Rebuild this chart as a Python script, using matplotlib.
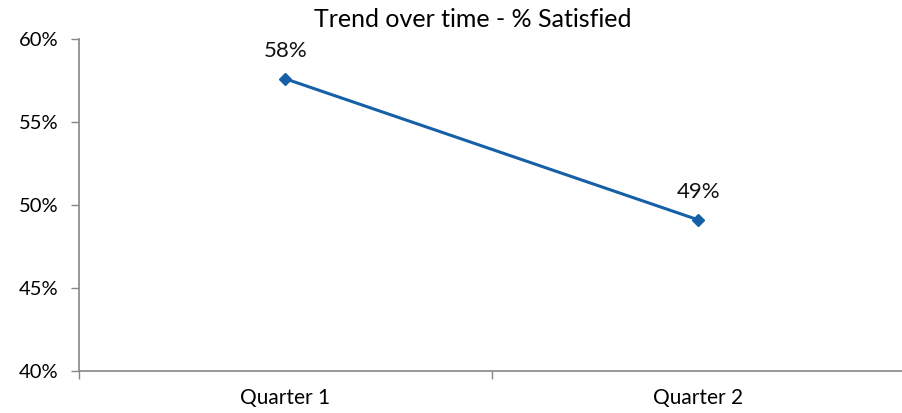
import numpy as np
import matplotlib.pyplot as plt
from matplotlib.ticker import FuncFormatter

# ---- data ----
quarters = ["Quarter 1", "Quarter 2"]
satisfied = [0.576, 0.491]
labels = ["58%", "49%"]

line_col = "#1660A8"
axis_col = "#868686"

plt.rcParams["font.family"] = ["Lato", "DejaVu Sans"]

fig = plt.figure(figsize=(9.03, 4.13), dpi=100)
ax = fig.add_axes([79 / 903, (413 - 371) / 413, 826 / 903, (371 - 39) / 413])

x = np.arange(len(quarters))
ax.plot(x, satisfied, color=line_col, lw=2.2, marker="D", ms=6.5, mec=line_col, mfc=line_col)
for xi, yi, lab in zip(x, satisfied, labels):
    ax.annotate(lab, (xi, yi), xytext=(0, 13), textcoords="offset points",
                ha="center", va="bottom", fontsize=16, color="#111111")

ax.set_xlim(-0.5, 1.5)
ax.set_ylim(0.40, 0.60)
ax.set_yticks(np.arange(0.40, 0.601, 0.05))
ax.yaxis.set_major_formatter(FuncFormatter(lambda v, p: f"{v * 100:.0f}%"))

# category ticks sit on boundaries, labels centred in categories
ax.set_xticks([-0.5, 0.5, 1.5])
ax.set_xticklabels([])
ax.set_xticks(x, minor=True)
ax.set_xticklabels(quarters, minor=True, fontsize=15)
ax.tick_params(axis="x", which="minor", length=0, pad=12)
ax.tick_params(axis="x", which="major", length=6, color=axis_col, width=1)
ax.tick_params(axis="y", length=6, color=axis_col, width=1, labelsize=14.5, pad=9)

for s in ["top", "right"]:
    ax.spines[s].set_visible(False)
for s in ["left", "bottom"]:
    ax.spines[s].set_color(axis_col)
    ax.spines[s].set_linewidth(1.2)

fig.text(473 / 903, 0.952, "Trend over time - % Satisfied", ha="center", va="center", fontsize=18)

fig.savefig("out.png", dpi=100)
